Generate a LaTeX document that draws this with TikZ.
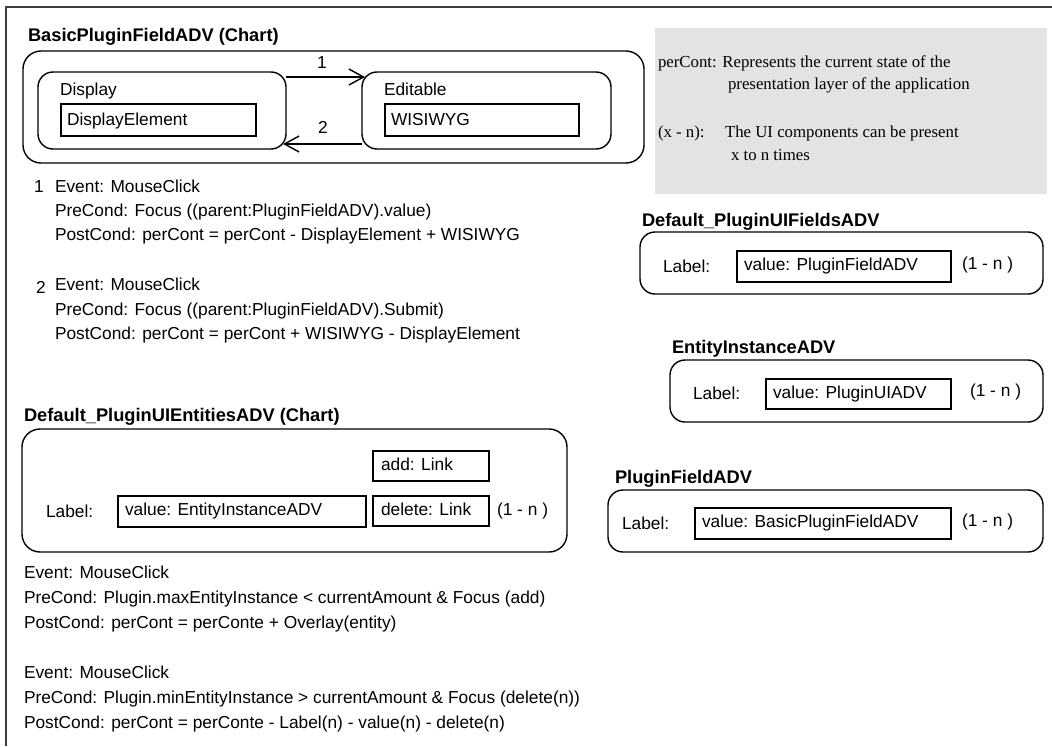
\documentclass[tikz,border=0pt]{standalone}
\usepackage{fontspec}
\setmainfont{Liberation Sans}
\newfontfamily\notefont{Liberation Serif}
\usetikzlibrary{arrows.meta,calc}
\newdimen\px \px=0.75pt
\definecolor{notebg}{RGB}{227,227,227}
\definecolor{framec}{RGB}{60,60,60}
\tikzset{
  chart/.style={draw, rounded corners=18\px, line width=1.05pt, inner sep=0pt, outer sep=0pt, anchor=north west},
  state/.style={draw, rounded corners=15\px, line width=1.05pt, inner sep=0pt, outer sep=0pt, anchor=north west},
  field/.style={draw, line width=0.8pt, inner sep=0pt, outer sep=0pt, anchor=north west},
  txt/.style={inner sep=0pt, outer sep=0pt, anchor=west, font=\fontsize{13}{15}\selectfont, text height=9.4pt, text depth=0pt},
  ttl/.style={txt, font=\fontsize{13.7}{16}\selectfont\bfseries, text height=9.9pt},
  note/.style={inner sep=0pt, outer sep=0pt, anchor=west, font=\notefont\fontsize{12.6}{15}\selectfont, text height=8pt, text depth=0pt},
  trans/.style={line width=1.05pt, -{Straight Barb[length=11pt,width=12pt]}},
}
\begin{document}
\begin{tikzpicture}[x=0.75pt,y=-0.75pt]
\useasboundingbox (0,0) rectangle (1052,746);
\fill[white] (0,0) rectangle (1052,746);
% page frame (top and left rules)
\coordinate (fTL) at (6,7);
\coordinate (fTR) at (1052,7);
\coordinate (fBL) at (6,746);
\draw[framec, line width=1.5pt] (fTR) -- (fTL) -- (fBL);

% ---------- BasicPluginFieldADV chart ----------
\node[ttl] (t1) at (28,35) {BasicPluginFieldADV (Chart)};
\node[chart, minimum width=621\px, minimum height=112\px] (c1) at (23,51) {};
\node[state, minimum width=248\px, minimum height=77\px] (disp) at (38,72) {};
\node[state, minimum width=249\px, minimum height=77\px] (edit) at (362,72) {};
\node[txt] (dispname) at (60,89) {Display};
\node[txt] (editname) at (384,89) {Editable};
\node[field, minimum width=195\px, minimum height=32\px] (delem) at (61,104) {};
\node[txt] (delemtxt) at ($(delem.west)+(6,-1)$) {DisplayElement};
\node[field, minimum width=194\px, minimum height=32\px] (wys) at (385,104) {};
\node[txt] (wystxt) at ($(wys.west)+(6,-1)$) {WISIWYG};
\draw[trans] ($(disp.north east)+(0,5)$) -- ($(edit.north west)+(3,5)$);
\draw[trans] ($(edit.south west)+(0,-5)$) -- ($(disp.south east)+(-3,-5)$);
\node[txt, anchor=center] (lab1) at (322,62) {1};
\node[txt, anchor=center] (lab2) at (323,127) {2};

% transition conditions
\node[txt, anchor=center] (n1) at (39,186) {1};
\node[txt] (e1a) at (55,186) {Event: MouseClick};
\node[txt] (e1b) at (55,210) {PreCond: Focus ((parent:PluginFieldADV).value)};
\node[txt] (e1c) at (55,234) {PostCond: perCont = perCont - DisplayElement + WISIWYG};
\node[txt, anchor=center] (n2) at (41,287) {2};
\node[txt] (e2a) at (55,284) {Event: MouseClick};
\node[txt] (e2b) at (55,309) {PreCond: Focus ((parent:PluginFieldADV).Submit)};
\node[txt] (e2c) at (55,333) {PostCond: perCont = perCont + WISIWYG - DisplayElement};

% ---------- note ----------
\node[fill=notebg, inner sep=0pt, outer sep=0pt, anchor=north west, minimum width=392\px, minimum height=166\px] (notebox) at (655,28) {};
\node[note] (nt1) at (658,62) {perCont: Represents the current state of the};
\node[note] (nt2) at (728,84) {presentation layer of the application};
\node[note] (nt3) at (658,132) {(x - n):};
\node[note] (nt4) at (725,132) {The UI components can be present};
\node[note] (nt5) at (731,155) {x to n times};

% ---------- Default_PluginUIFieldsADV ----------
\node[ttl] (t3) at (642,220) {Default\_PluginUIFieldsADV};
\node[state, minimum width=403\px, minimum height=62\px] (c3) at (640,232) {};
\node[txt] (l3) at (663,266) {Label:};
\node[field, minimum width=214\px, minimum height=31\px] (v3) at (737,251) {};
\node[txt] (v3txt) at ($(v3.west)+(7,-2)$) {value: PluginFieldADV};
\node[txt] (m3) at (962,263) {(1 - n )};

% ---------- EntityInstanceADV ----------
\node[ttl] (t4) at (672,347) {EntityInstanceADV};
\node[state, minimum width=373\px, minimum height=62\px] (c4) at (670,360) {};
\node[txt] (l4) at (693,393) {Label:};
\node[field, minimum width=185\px, minimum height=30\px] (v4) at (766,379) {};
\node[txt] (v4txt) at ($(v4.west)+(7,-2)$) {value: PluginUIADV};
\node[txt] (m4) at (970,390) {(1 - n )};

% ---------- PluginFieldADV ----------
\node[ttl] (t5) at (615,477) {PluginFieldADV};
\node[state, minimum width=435\px, minimum height=62\px] (c5) at (608,490) {};
\node[txt] (l5) at (622,523) {Label:};
\node[field, minimum width=256\px, minimum height=31\px] (v5) at (695,508) {};
\node[txt] (v5txt) at ($(v5.west)+(7,-2)$) {value: BasicPluginFieldADV};
\node[txt] (m5) at (962,520) {(1 - n )};

% ---------- Default_PluginUIEntitiesADV chart ----------
\node[ttl] (t2) at (24,415) {Default\_PluginUIEntitiesADV (Chart)};
\node[chart, minimum width=545\px, minimum height=123\px] (c2) at (22,429) {};
\node[field, minimum width=116\px, minimum height=30\px] (addl) at (373,451) {};
\node[txt] (addtxt) at ($(addl.west)+(8,-2)$) {add: Link};
\node[field, minimum width=116\px, minimum height=30\px] (dell) at (373,496) {};
\node[txt] (deltxt) at ($(dell.west)+(8,-2)$) {delete: Link};
\node[field, minimum width=248\px, minimum height=31\px] (v2) at (118,496) {};
\node[txt] (v2txt) at ($(v2.west)+(7,-2)$) {value: EntityInstanceADV};
\node[txt] (l2) at (46,511) {Label:};
\node[txt] (m2) at (497,509) {(1 - n )};

% add / delete conditions
\node[txt] (a1) at (24,572) {Event: MouseClick};
\node[txt] (a2) at (24,597) {PreCond: Plugin.maxEntityInstance < currentAmount \& Focus (add)};
\node[txt] (a3) at (24,622) {PostCond: perCont = perConte + Overlay(entity)};
\node[txt] (d1) at (24,672) {Event: MouseClick};
\node[txt] (d2) at (24,697) {PreCond: Plugin.minEntityInstance > currentAmount \& Focus (delete(n))};
\node[txt] (d3) at (24,722) {PostCond: perCont = perConte - Label(n) - value(n) - delete(n)};
\end{tikzpicture}
\end{document}
